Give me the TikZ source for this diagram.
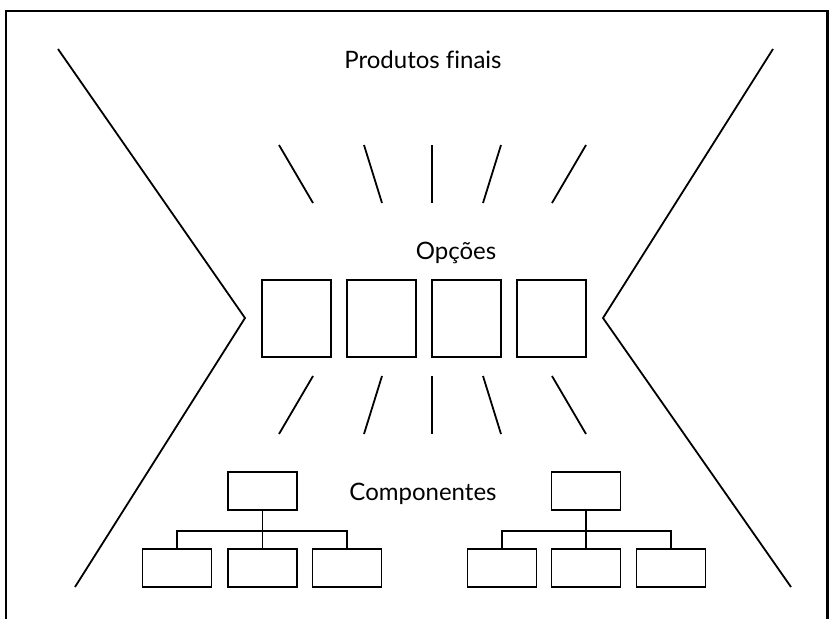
\documentclass[tikz,border=0pt]{standalone}
\usepackage{fontspec}
\setmainfont{Lato}[Ligatures=NoCommon]
\begin{document}
\begin{tikzpicture}[x=1pt,y=-1pt,
    line width=1.8pt,
    optbox/.style={draw, minimum width=69pt, minimum height=77pt, inner sep=0pt},
    compbox/.style={draw, minimum width=69pt, minimum height=38pt, inner sep=0pt},
    label/.style={font=\fontsize{24}{28}\selectfont, inner sep=0pt}]
\useasboundingbox (0,0) rectangle (829,619);

% frame, open at the bottom
\draw[line width=2.2pt] (6,619) -- (6,11) -- (827.5,11) -- (827.5,619);

% hourglass outline
\coordinate (lt) at (58,49);  \coordinate (lm) at (245,318); \coordinate (lb) at (75,587);
\coordinate (rt) at (773,49); \coordinate (rm) at (603,318); \coordinate (rb) at (791,587);
\draw (lt) -- (lm) -- (lb);
\draw (rt) -- (rm) -- (rb);

% labels
\node[label] (prod) at (423,60) {Produtos finais};
\node[label] (opc) at (456,253) {Opções};
\node[label] (comp) at (423,494) {Componentes};

% option boxes
\node[optbox] (o1) at (296.5,318.5) {};
\node[optbox] (o2) at (381.5,318.5) {};
\node[optbox] (o3) at (466.5,318.5) {};
\node[optbox] (o4) at (551.5,318.5) {};

% rays above the options
\coordinate (ta1) at (279,145); \coordinate (tb1) at (313,203);
\coordinate (ta2) at (364,145); \coordinate (tb2) at (382,203);
\coordinate (ta3) at (432,145); \coordinate (tb3) at (432,203);
\coordinate (ta4) at (501,145); \coordinate (tb4) at (483,203);
\coordinate (ta5) at (586,145); \coordinate (tb5) at (552,203);
\foreach \i in {1,...,5} \draw (ta\i) -- (tb\i);

% rays below the options
\coordinate (ba1) at (313,376); \coordinate (bb1) at (279,434);
\coordinate (ba2) at (382,376); \coordinate (bb2) at (364,434);
\coordinate (ba3) at (432,376); \coordinate (bb3) at (432,434);
\coordinate (ba4) at (483,376); \coordinate (bb4) at (501,434);
\coordinate (ba5) at (552,376); \coordinate (bb5) at (586,434);
\foreach \i in {1,...,5} \draw (ba\i) -- (bb\i);

% left component tree
\node[compbox] (lroot) at (262.5,491) {};
\node[compbox] (lc1) at (177,568) {};
\node[compbox] (lc2) at (262.5,568) {};
\node[compbox] (lc3) at (347,568) {};
\path (lroot.south) ++(0,20) coordinate (lj);
\draw (lroot.south) -- (lc2.north);
\draw (lc1.north) |- (lj) -| (lc3.north);

% right component tree
\node[compbox] (rroot) at (586,491) {};
\node[compbox] (rc1) at (502,568) {};
\node[compbox] (rc2) at (586,568) {};
\node[compbox] (rc3) at (671,568) {};
\path (rroot.south) ++(0,20) coordinate (rj);
\draw (rroot.south) -- (rc2.north);
\draw (rc1.north) |- (rj) -| (rc3.north);
\end{tikzpicture}
\end{document}
